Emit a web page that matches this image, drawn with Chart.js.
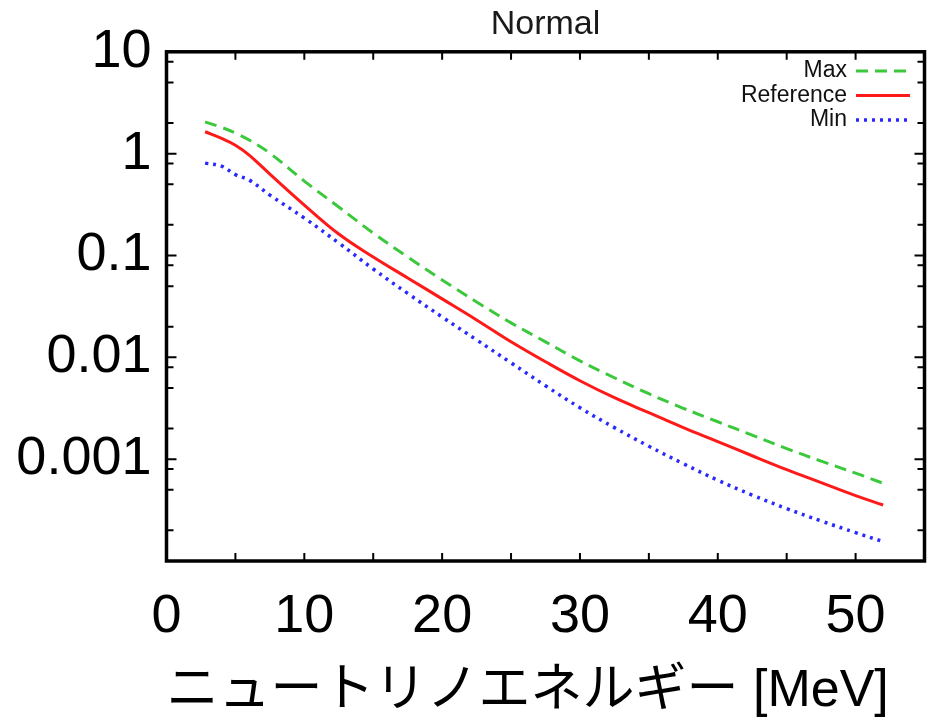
<!DOCTYPE html>
<html>
<head>
<meta charset="utf-8">
<script src="https://cdn.jsdelivr.net/npm/chart.js@4"></script>
<style>
  html, body { margin: 0; padding: 0; background: #fff; }
</style>
</head>
<body>
<canvas id="spectrumChart" width="933" height="724"></canvas>
<script>
var energy = [2.8, 4, 5, 6, 7.5, 10, 12.5, 15, 17.5, 20, 22.5, 25, 27.5, 30, 32.5, 35, 37.5, 40, 42.5, 45, 47.5, 50, 52];
var fluxMax = [2.05, 1.81, 1.59, 1.36, 1.01, 0.538, 0.299, 0.166, 0.0967, 0.0575, 0.035, 0.0218, 0.0142, 0.00924, 0.0063, 0.00439, 0.00316, 0.00233, 0.00172, 0.00127, 0.000956, 0.000729, 0.00058];
var fluxRef = [1.64, 1.41, 1.21, 0.967, 0.63, 0.313, 0.1625, 0.0967, 0.0602, 0.0375, 0.0233, 0.0142, 0.00904, 0.00589, 0.00401, 0.00286, 0.00204, 0.00149, 0.00108, 0.000789, 0.000589, 0.000439, 0.000355];
var fluxMin = [0.807, 0.754, 0.622, 0.55, 0.392, 0.233, 0.1326, 0.0737, 0.0424, 0.0249, 0.01484, 0.00883, 0.00526, 0.0032, 0.00204, 0.00134, 0.000903, 0.000622, 0.000444, 0.000327, 0.000247, 0.00019, 0.000155];

var seriesLabels = ['Max', 'Reference', 'Min'];
var xTickLabels = ['0', '10', '20', '30', '40', '50'];
var yMajorTicks = [0.0001, 0.001, 0.01, 0.1, 1, 10];
var yTickLabels = ['', '0.001', '0.01', '0.1', '1', '10'];
var yMinorSteps = [2, 5, 8];

var latin = "'Liberation Sans', Arial, sans-serif";

function points(values) {
  return energy.map(function (e, i) { return { x: e, y: values[i] }; });
}

// 枠と内向きの目盛り
var framePlugin = {
  id: 'frame',
  afterDatasetsDraw: function (chart) {
    var ctx = chart.ctx, a = chart.chartArea;
    var xs = chart.scales.x, ys = chart.scales.y;
    ctx.save();
    ctx.strokeStyle = '#000';
    ctx.lineWidth = 2;
    ctx.beginPath();
    xs.ticks.forEach(function (t) {
      var px = xs.getPixelForValue(t.value);
      ctx.moveTo(px, a.bottom); ctx.lineTo(px, a.bottom - 8);
      ctx.moveTo(px, a.top); ctx.lineTo(px, a.top + 8);
    });
    ys.ticks.forEach(function (t) {
      var py = ys.getPixelForValue(t.value);
      var len = t.isMajor ? 10 : 7;
      ctx.moveTo(a.left, py); ctx.lineTo(a.left + len, py);
      ctx.moveTo(a.right, py); ctx.lineTo(a.right - len, py);
    });
    ctx.stroke();
    ctx.lineWidth = 3.5;
    ctx.strokeRect(a.left, a.top, a.right - a.left, a.bottom - a.top);
    ctx.restore();
  }
};

// 凡例（右上、文字の右に線）
var keyPlugin = {
  id: 'key',
  afterDraw: function (chart) {
    var ctx = chart.ctx;
    ctx.save();
    ctx.font = '23px ' + latin;
    ctx.fillStyle = '#111';
    ctx.textAlign = 'right';
    ctx.textBaseline = 'middle';
    chart.data.datasets.forEach(function (ds, i) {
      var y = 71 + i * 24.5;
      ctx.fillText(ds.label, 847, y);
      ctx.strokeStyle = ds.borderColor;
      ctx.lineWidth = ds.borderWidth;
      ctx.setLineDash(ds.borderDash || []);
      ctx.beginPath();
      ctx.moveTo(856, y);
      ctx.lineTo(910, y);
      ctx.stroke();
    });
    ctx.restore();
  }
};

var ctx = document.getElementById('spectrumChart').getContext('2d');
var spectrumChart = new Chart(ctx, {
  type: 'line',
  data: {
    datasets: [
      {
        label: seriesLabels[0],
        data: points(fluxMax),
        borderColor: '#3cc83c',
        borderWidth: 3,
        borderDash: [12, 7],
        pointRadius: 0,
        tension: 0.4
      },
      {
        label: seriesLabels[1],
        data: points(fluxRef),
        borderColor: '#ff1a1a',
        borderWidth: 3,
        pointRadius: 0,
        tension: 0.4
      },
      {
        label: seriesLabels[2],
        data: points(fluxMin),
        borderColor: '#2a2aff',
        borderWidth: 3.5,
        borderDash: [3, 5],
        borderCapStyle: 'butt',
        pointRadius: 0,
        tension: 0.4
      }
    ]
  },
  options: {
    responsive: false,
    animation: false,
    layout: { padding: { left: 0, right: 8.5, top: 0, bottom: 0 } },
    plugins: {
      legend: { display: false },
      tooltip: { enabled: false },
      title: {
        display: true,
        text: 'Normal',
        fullSize: false,
        color: '#1a1a1a',
        font: { family: latin, size: 34, weight: 'normal' },
        padding: { top: 4, bottom: 7 }
      }
    },
    scales: {
      x: {
        type: 'linear',
        min: 0,
        max: 55,
        grid: { display: false, drawTicks: false },
        border: { display: false },
        ticks: {
          stepSize: 5,
          autoSkip: false,
          maxRotation: 0,
          padding: 24,
          color: '#000',
          font: { family: latin, size: 54 },
          callback: function (v) {
            var s = String(v);
            return xTickLabels.indexOf(s) >= 0 ? s : '';
          }
        },
        title: {
          display: true,
          text: 'ニュートリノエネルギー [MeV]',
          align: 'start',
          color: '#000',
          font: { family: "'Liberation Sans', 'Noto Sans CJK JP', sans-serif", size: 52 },
          padding: { top: 0, bottom: 1 }
        },
        afterFit: function (scale) {
          scale.height = 163;
          scale.paddingLeft = 0;
          scale.paddingRight = 0;
        }
      },
      y: {
        type: 'logarithmic',
        min: 0.0001,
        max: 10,
        grid: { display: false, drawTicks: false },
        border: { display: false },
        afterBuildTicks: function (scale) {
          var ticks = [];
          yMajorTicks.forEach(function (m, i) {
            ticks.push({ value: m, isMajor: true });
            if (i < yMajorTicks.length - 1) {
              yMinorSteps.forEach(function (s) { ticks.push({ value: m * s, isMajor: false }); });
            }
          });
          scale.ticks = ticks;
        },
        ticks: {
          autoSkip: false,
          padding: 15,
          color: '#000',
          font: { family: latin, size: 54 },
          callback: function (v) {
            for (var i = 0; i < yMajorTicks.length; i++) {
              if (Math.abs(Math.log10(v) - Math.log10(yMajorTicks[i])) < 1e-9) return yTickLabels[i];
            }
            return '';
          }
        },
        afterFit: function (scale) {
          scale.width = 166.5;
          scale.paddingTop = 0;
          scale.paddingBottom = 0;
        }
      }
    }
  },
  plugins: [framePlugin, keyPlugin]
});
</script>
</body>
</html>
